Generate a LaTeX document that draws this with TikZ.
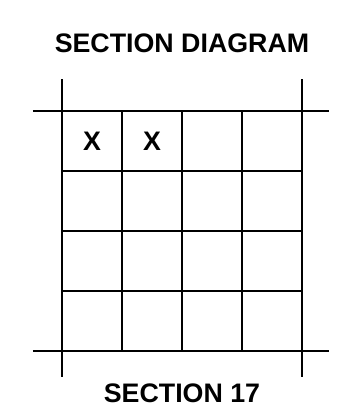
\documentclass[tikz,border=0pt]{standalone}
\usepackage{fontspec}
\setmainfont{Liberation Sans}
\usepackage{tikz}
\usetikzlibrary{calc}

\begin{document}
\begin{tikzpicture}[line width=1.3pt]
			% Riquadro della pagina
			\useasboundingbox (-1.033, -1.067) rectangle (4.717, 5.85);
			
			% Angoli della sezione
			\coordinate (SW) at (0,0);
			\coordinate (SE) at (4,0);
			\coordinate (NW) at (0,4);
			\coordinate (NE) at (4,4);
			
			% Linee di confine prolungate
			\draw ($(SW)+(-0.483,0)$) -- ($(SE)+(0.45,0)$);
			\draw ($(NW)+(-0.483,0)$) -- ($(NE)+(0.45,0)$);
			\draw ($(SW)+(0,-0.433)$) -- ($(NW)+(0,0.533)$);
			\draw ($(SE)+(0,-0.433)$) -- ($(NE)+(0,0.533)$);
			
			% Griglia interna 4x4
			\draw (1,0) -- (1,4);
			\draw (2,0) -- (2,4);
			\draw (3,0) -- (3,4);
			\draw (0,1) -- (4,1);
			\draw (0,2) -- (4,2);
			\draw (0,3) -- (4,3);
			
			% Titoli
			\node[font=\bfseries\fontsize{12.7}{15}\selectfont] (titolo) at (2, 5.13) {SECTION DIAGRAM};
			\node[font=\bfseries\fontsize{12.7}{15}\selectfont] (sezione) at (2, -0.71) {SECTION 17};
			
			% Celle segnate
			\node[font=\bfseries\fontsize{12.7}{15}\selectfont] (x1) at (0.5, 3.5) {X};
			\node[font=\bfseries\fontsize{12.7}{15}\selectfont] (x2) at (1.5, 3.5) {X};
		\end{tikzpicture}
\end{document}
